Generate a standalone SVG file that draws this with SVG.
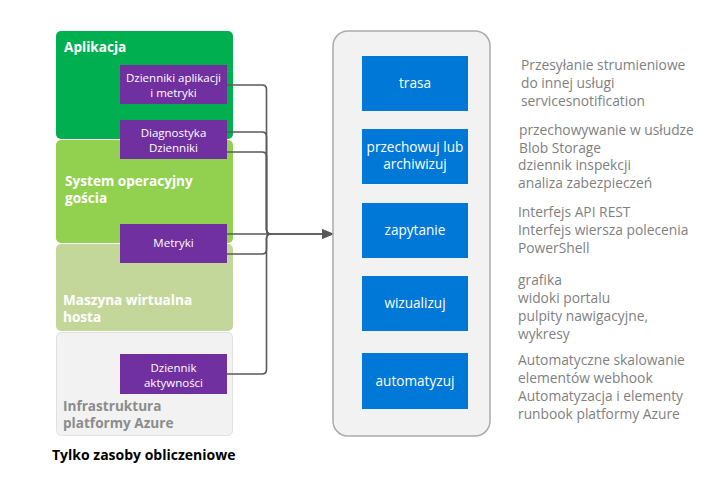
<svg xmlns="http://www.w3.org/2000/svg" width="706" height="489" viewBox="0 0 706 489">
<style>
.lbl{font-family:"Open Sans","Noto Sans",sans-serif;font-weight:bold;font-size:13.6px;fill:#fff}
.pt{font-family:"Open Sans","Noto Sans",sans-serif;font-size:11.5px;fill:#fff;text-anchor:middle}
.bt{font-family:"Open Sans","Noto Sans",sans-serif;font-size:13.6px;fill:#fff;text-anchor:middle}
.rt{font-family:"Open Sans","Noto Sans",sans-serif;font-size:13.8px;fill:#7f7f7f}
.pb{fill:#7030a0}
.bb{fill:#0078d7}
.con{fill:none;stroke:#595959;stroke-width:1.6}
</style>
<defs>
<marker id="ah" markerWidth="12" markerHeight="10" refX="11" refY="5" orient="auto" markerUnits="userSpaceOnUse">
<path d="M0,0 L12,5 L0,10 z" fill="#595959"/>
</marker>
</defs>
<rect width="706" height="489" fill="#fff"/>
<g id="aplikacja">
<rect x="56" y="31" width="177" height="108" rx="5" fill="#00b050"/>
<text class="lbl" x="64" y="52">Aplikacja</text>
</g>
<g id="system">
<rect x="56" y="140" width="177" height="103" rx="5" fill="#92d050"/>
<text class="lbl" x="65" y="185.5">System operacyjny</text>
<text class="lbl" x="65" y="203">gościa</text>
</g>
<g id="maszyna">
<rect x="56" y="244" width="177" height="87" rx="5" fill="#c4d79b"/>
<text class="lbl" x="63" y="304.5">Maszyna wirtualna</text>
<text class="lbl" x="63" y="322">hosta</text>
</g>
<g id="infra">
<rect x="56.5" y="332.5" width="176" height="103" rx="5" fill="#f2f2f2" stroke="#e0e0e0"/>
<text class="lbl" x="63" y="410.5" style="fill:#8c8c8c">Infrastruktura</text>
<text class="lbl" x="63" y="428" style="fill:#8c8c8c">platformy Azure</text>
</g>
<g id="dzienniki-aplikacji">
<rect class="pb" x="120" y="65" width="107" height="39"/>
<text class="pt" x="173.5" y="81.5">Dzienniki aplikacji</text>
<text class="pt" x="173.5" y="97">i metryki</text>
</g>
<g id="diagnostyka">
<rect class="pb" x="120" y="120" width="107" height="39"/>
<text class="pt" x="173.5" y="136.5">Diagnostyka</text>
<text class="pt" x="173.5" y="152">Dzienniki</text>
</g>
<g id="metryki">
<rect class="pb" x="120" y="224" width="107" height="39"/>
<text class="pt" x="173.5" y="247">Metryki</text>
</g>
<g id="dziennik-aktywnosci">
<rect class="pb" x="120" y="354" width="107" height="40"/>
<text class="pt" x="173.5" y="371.5">Dziennik</text>
<text class="pt" x="173.5" y="387">aktywności</text>
</g>
<text x="52" y="460" style="font-family:'Open Sans','Noto Sans',sans-serif;font-weight:bold;font-size:14px;fill:#000">Tylko zasoby obliczeniowe</text>
<g id="connectors">
<path class="con" d="M227,85 H262 Q266.5,85 266.5,89.5 V229.5 Q266.5,234 271,234 H333" marker-end="url(#ah)"/>
<path class="con" d="M227,132 H262 Q266.5,132 266.5,136.5 V229.5 Q266.5,234 271,234"/>
<path class="con" d="M227,152 H262 Q266.5,152 266.5,156.5 V229.5 Q266.5,234 271,234"/>
<path class="con" d="M227,234 H333" marker-end="url(#ah)"/>
<path class="con" d="M227,254 H262 Q266.5,254 266.5,249.5 V238.5 Q266.5,234 271,234"/>
<path class="con" d="M227,374 H262 Q266.5,374 266.5,369.5 V238.5 Q266.5,234 271,234"/>
</g>
<g id="panel">
<rect x="333" y="31" width="157" height="405" rx="15" fill="#f2f2f2" stroke="#ababab" stroke-width="1.5"/>
</g>
<g id="trasa">
<rect class="bb" x="362" y="56" width="106" height="55"/>
<text class="bt" x="415" y="88">trasa</text>
</g>
<g id="przechowuj">
<rect class="bb" x="362" y="129" width="106" height="55"/>
<text class="bt" x="415" y="151.5">przechowuj lub</text>
<text class="bt" x="415" y="169">archiwizuj</text>
</g>
<g id="zapytanie">
<rect class="bb" x="362" y="203" width="106" height="55"/>
<text class="bt" x="415" y="235">zapytanie</text>
</g>
<g id="wizualizuj">
<rect class="bb" x="362" y="276" width="106" height="55"/>
<text class="bt" x="415" y="308">wizualizuj</text>
</g>
<g id="automatyzuj">
<rect class="bb" x="362" y="353" width="106" height="56"/>
<text class="bt" x="415" y="386">automatyzuj</text>
</g>
<g id="opis">
<text class="rt" x="521" y="70">Przesyłanie strumieniowe</text>
<text class="rt" x="521" y="88">do innej usługi</text>
<text class="rt" x="521" y="106">servicesnotification</text>
<text class="rt" x="519" y="135">przechowywanie w usłudze</text>
<text class="rt" x="519" y="152.5">Blob Storage</text>
<text class="rt" x="518" y="170">dziennik inspekcji</text>
<text class="rt" x="518" y="188">analiza zabezpieczeń</text>
<text class="rt" x="518" y="217">Interfejs API REST</text>
<text class="rt" x="518" y="235">Interfejs wiersza polecenia</text>
<text class="rt" x="518" y="253">PowerShell</text>
<text class="rt" x="518" y="285">grafika</text>
<text class="rt" x="518" y="303">widoki portalu</text>
<text class="rt" x="518" y="321">pulpity nawigacyjne,</text>
<text class="rt" x="518" y="339">wykresy</text>
<text class="rt" x="518" y="365">Automatyczne skalowanie</text>
<text class="rt" x="518" y="383">elementów webhook</text>
<text class="rt" x="518" y="401">Automatyzacja i elementy</text>
<text class="rt" x="518" y="419">runbook platformy Azure</text>
</g>
</svg>
